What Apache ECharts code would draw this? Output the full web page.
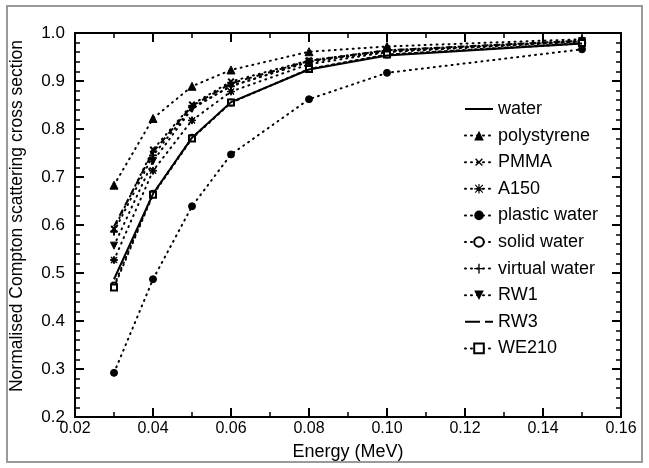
<!DOCTYPE html>
<html><head><meta charset="utf-8">
<script src="https://cdn.jsdelivr.net/npm/echarts@6/dist/echarts.min.js"></script>
<style>html,body{margin:0;padding:0;background:#fff}#c{width:649px;height:468px}</style>
</head><body><div id="c"></div>
<script>
const energy = [0.03, 0.04, 0.05, 0.06, 0.08, 0.10, 0.15];
const water = [0.487, 0.665, 0.782, 0.856, 0.924, 0.953, 0.978];
const polystyrene = [0.683, 0.822, 0.889, 0.923, 0.961, 0.972, 0.987];
const pmma = [0.592, 0.757, 0.851, 0.899, 0.943, 0.964, 0.984];
const a150 = [0.527, 0.713, 0.818, 0.878, 0.935, 0.960, 0.982];
const plasticWater = [0.292, 0.487, 0.639, 0.747, 0.862, 0.917, 0.966];
const solidWater = [0.474, 0.665, 0.782, 0.855, 0.925, 0.955, 0.978];
const virtualWater = [0.586, 0.745, 0.845, 0.889, 0.940, 0.962, 0.983];
const rw1 = [0.557, 0.733, 0.842, 0.890, 0.940, 0.962, 0.983];
const rw3 = [0.597, 0.752, 0.848, 0.895, 0.942, 0.964, 0.984];
const we210 = [0.470, 0.663, 0.780, 0.855, 0.925, 0.955, 0.979];
const xTicks = [0.02, 0.16, 0.02];
const yTicks = [0.2, 1.0, 0.1];

const FONT = 'Liberation Sans, Arial, sans-serif';
const PLUS = 'path://M4.3,0h1.4v4.3h4.3v1.4h-4.3v4.3h-1.4v-4.3h-4.3v-1.4h4.3z';
const STAR = 'path://M4.4,0h1.2v4.4h4.4v1.2h-4.4v4.4h-1.2v-4.4h-4.4v-1.2h4.4z M1.4,0.6L5,4.2L8.6,0.6L9.4,1.4L5.8,5L9.4,8.6L8.6,9.4L5,5.8L1.4,9.4L0.6,8.6L4.2,5L0.6,1.4z';
const SOLID_ICON = 'path://M0,0h0.01v0.01h-0.01z M0,5h28v2h-28z M27.99,11.99h0.01v0.01h-0.01z';
const DASH_ICON = 'path://M0,0h0.01v0.01h-0.01z M0,5h15v2h-15z M20,5h8v2h-8z M27.99,11.99h0.01v0.01h-0.01z';
const dotted = {type: [1, 5], width: 2, cap: 'round', color: '#000'};

function pts(arr){ return energy.map((e,i)=>[e, arr[i]]); }
function s(name, arr, symbol, size, extra){
  return Object.assign({
    name, type: 'line', data: pts(arr), symbol, symbolSize: size,
    lineStyle: dotted, itemStyle: {color: '#000', borderColor: '#000'},
    emphasis: {disabled: true}, animation: false, z: 3
  }, extra || {});
}

const series = [
  s('water', water, 'none', 0, {lineStyle: {type: 'solid', width: 2, color: '#000'}, z: 4}),
  s('polystyrene', polystyrene, 'triangle', 8),
  s('PMMA', pmma, PLUS, 7, {symbolRotate: 45}),
  s('A150', a150, STAR, 7),
  s('plastic water', plasticWater, 'circle', 7),
  s('solid water', solidWater, 'emptyCircle', 6, {itemStyle: {color: '#000', borderColor: '#000', borderWidth: 1.5}}),
  s('virtual water', virtualWater, PLUS, 7),
  s('RW1', rw1, 'triangle', 7, {symbolRotate: 180}),
  s('RW3', rw3, 'none', 0, {lineStyle: {type: [7, 5], width: 2, color: '#000'}}),
  s('WE210', we210, 'emptyRect', 6, {itemStyle: {color: '#000', borderColor: '#000', borderWidth: 1.5}})
];

const legendData = series.map(x => {
  if (x.name === 'water') return {name: x.name, icon: SOLID_ICON};
  if (x.name === 'RW3') return {name: x.name, icon: DASH_ICON};
  return {name: x.name};
});

const axisBase = {
  axisLine: {show: true, onZero: false, lineStyle: {color: '#000', width: 2}},
  axisTick: {show: true, inside: true, length: 9, lineStyle: {color: '#000', width: 2}},
  minorTick: {show: true, length: 5, lineStyle: {color: '#000', width: 1.5}},
  splitLine: {show: false}
};

const chart = echarts.init(document.getElementById('c'), null, {renderer: 'canvas'});
chart.setOption({
  backgroundColor: '#fff',
  animation: false,
  grid: {left: 73, right: 28, top: 33, bottom: 51},
  graphic: [{type: 'rect', shape: {x: 7, y: 6, width: 635, height: 456}, style: {fill: 'none', stroke: '#9a9a9a', lineWidth: 2}, z: -1, silent: true}],
  legend: {
    orient: 'vertical', left: 464, top: 100, padding: 0, itemWidth: 28, itemHeight: 12, itemGap: 8.6,
    textStyle: {fontFamily: FONT, fontSize: 18, lineHeight: 18, color: '#000'},
    data: legendData, selectedMode: false
  },
  xAxis: [
    Object.assign({}, axisBase, {type: 'value', min: xTicks[0], max: xTicks[1], interval: xTicks[2],
      name: 'Energy (MeV)', nameLocation: 'middle', nameGap: 26,
      nameTextStyle: {fontFamily: FONT, fontSize: 18, color: '#000'},
      minorTick: Object.assign({}, axisBase.minorTick, {splitNumber: 2}),
      axisLabel: {fontFamily: FONT, fontSize: 16, color: '#000', margin: 4, formatter: v => v.toFixed(2)}}),
    Object.assign({}, axisBase, {type: 'value', position: 'top', min: xTicks[0], max: xTicks[1], interval: xTicks[2],
      minorTick: Object.assign({}, axisBase.minorTick, {splitNumber: 2}),
      axisLabel: {show: false}})
  ],
  yAxis: [
    Object.assign({}, axisBase, {type: 'value', min: yTicks[0], max: yTicks[1], interval: yTicks[2],
      name: 'Normalised Compton scattering cross section', nameLocation: 'middle', nameGap: 49,
      nameTextStyle: {fontFamily: FONT, fontSize: 17.5, color: '#000', padding: [0, 0, 0, 18]},
      minorTick: Object.assign({}, axisBase.minorTick, {splitNumber: 5}),
      axisLabel: {fontFamily: FONT, fontSize: 17, color: '#000', margin: 10, formatter: v => v.toFixed(1)}}),
    Object.assign({}, axisBase, {type: 'value', position: 'right', min: yTicks[0], max: yTicks[1], interval: yTicks[2],
      minorTick: Object.assign({}, axisBase.minorTick, {splitNumber: 5}),
      axisLabel: {show: false}})
  ],
  series
});
</script></body></html>
